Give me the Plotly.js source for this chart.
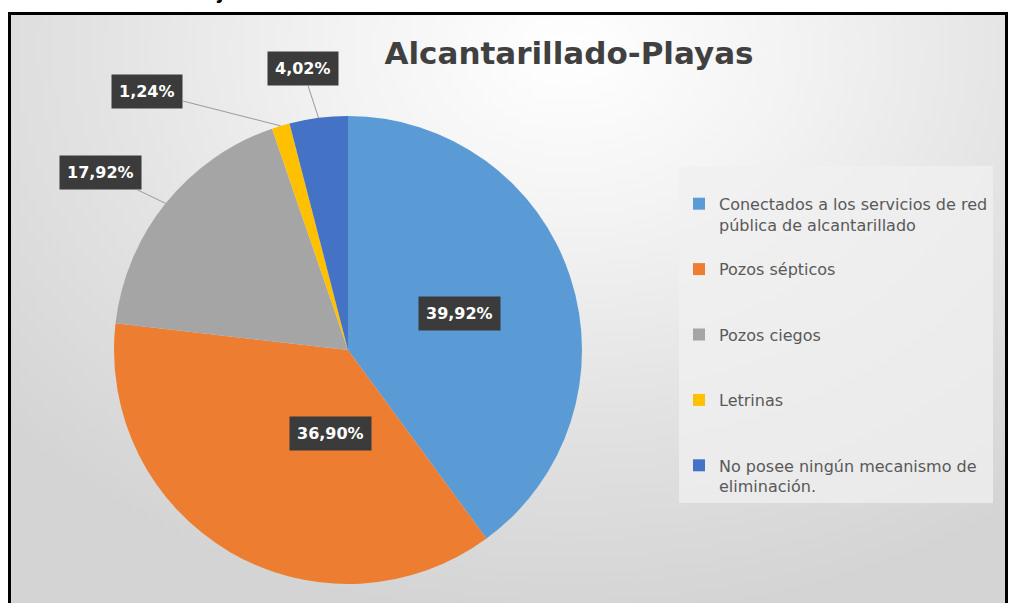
<!DOCTYPE html>
<html><head><meta charset="utf-8">
<script src="https://cdn.plot.ly/plotly-3.0.1.min.js"></script>
<style>
html,body{margin:0;padding:0;background:#fff;}
#wrap{position:relative;width:1013px;height:603px;overflow:hidden;}
#bg{position:absolute;left:8px;top:12px;width:994px;height:600px;border:3px solid #000;border-bottom:none;
 background:radial-gradient(ellipse 75% 95% at 56% 6%, #ffffff 0%, #f3f3f3 30%, #e2e2e2 65%, #d4d4d4 100%);}
#chart{position:absolute;left:0;top:0;width:1013px;height:603px;}
</style></head>
<body><div id="wrap"><div id="bg"></div><div id="chart"></div></div>
<script>
// ---- data ----
const categories = [
  "Conectados a los servicios de red<br>pública de alcantarillado",
  "Pozos sépticos",
  "Pozos ciegos",
  "Letrinas",
  "No posee ningún mecanismo de<br>eliminación."
];
const values = [39.92, 36.90, 17.92, 1.24, 4.02];
const colors = ["#5B9BD5", "#ED7D31", "#A5A5A5", "#FFC000", "#4472C4"];
const chartTitle = "Alcantarillado-Playas";
const captionText = "Gráfico 4: Porcentajes del servicio de alcantarillado";

// ---- layout constants ----
const W = 1013, H = 603;
const pieCx = 348, pieCy = 350, pieR = 234;
const domain = {
  x: [(pieCx - pieR) / W, (pieCx + pieR) / W],
  y: [1 - (pieCy + pieR) / H, 1 - (pieCy - pieR) / H]
};
// label offsets (px) for outside labels, by slice index
const outsideOffsets = {2: [-65, -31], 3: [-134, -34], 4: [-16, -49]};

// legend labels: centre symbol on first line
const legendLabels = categories.map(c => {
  const n = c.split("<br>").length;
  return " <br>" + c + (n === 1 ? "<br> " : "");
});

const total = values.reduce((a, b) => a + b, 0);
const annotations = [];
let cum = 0;
values.forEach((v, i) => {
  const mid = (cum + v / 2) / total * 2 * Math.PI; // clockwise from 12 o'clock
  cum += v;
  const txt = v.toFixed(2).replace(".", ",") + "%";
  const base = {
    text: "<b>" + txt + "</b>", xref: "paper", yref: "paper",
    font: {family: "DejaVu Sans, sans-serif", size: 16, color: "#ffffff"},
    bgcolor: "#3b3b3b", borderpad: 7
  };
  if (outsideOffsets[i]) {
    const px = pieCx + pieR * Math.sin(mid), py = pieCy - pieR * Math.cos(mid);
    annotations.push(Object.assign(base, {
      x: px / W, y: 1 - py / H, showarrow: true, arrowhead: 0,
      arrowwidth: 1, arrowcolor: "#9a9a9a",
      ax: outsideOffsets[i][0], ay: outsideOffsets[i][1]
    }));
  } else {
    const px = pieCx + pieR * 0.5 * Math.sin(mid), py = pieCy - pieR * 0.5 * Math.cos(mid);
    annotations.push(Object.assign(base, {x: px / W, y: 1 - py / H, showarrow: false}));
  }
});
annotations.push({
  text: "<b>" + captionText + "</b>", xref: "paper", yref: "paper",
  x: 0.003, y: 1, xanchor: "left", yanchor: "bottom", yshift: -5, showarrow: false,
  font: {family: "Liberation Sans, Arial, sans-serif", size: 23, color: "#000"}
});

const trace = {
  type: "pie",
  labels: legendLabels,
  values: values,
  sort: false,
  direction: "clockwise",
  rotation: 0,
  textinfo: "none",
  hoverinfo: "percent",
  marker: {colors: colors, line: {width: 0}},
  domain: domain
};

const layout = {
  width: W, height: H,
  margin: {l: 0, r: 0, t: 0, b: 0},
  paper_bgcolor: "rgba(0,0,0,0)",
  plot_bgcolor: "rgba(0,0,0,0)",
  title: {
    text: chartTitle, x: 569 / W, xanchor: "center", y: 1 - 53 / H, yanchor: "middle",
    font: {family: "DejaVu Sans, sans-serif", size: 31, weight: "bold", color: "#404040"}
  },
  showlegend: true,
  legend: {
    x: 679 / W, xanchor: "left", y: 1 - 166 / H, yanchor: "top",
    font: {family: "DejaVu Sans, sans-serif", size: 16, color: "#595959"},
    bgcolor: "rgba(240,240,240,0.75)", borderwidth: 0,
    traceorder: "normal"
  },
  annotations: annotations
};

Plotly.newPlot("chart", [trace], layout, {displayModeBar: false, staticPlot: true});
</script>
</body></html>
